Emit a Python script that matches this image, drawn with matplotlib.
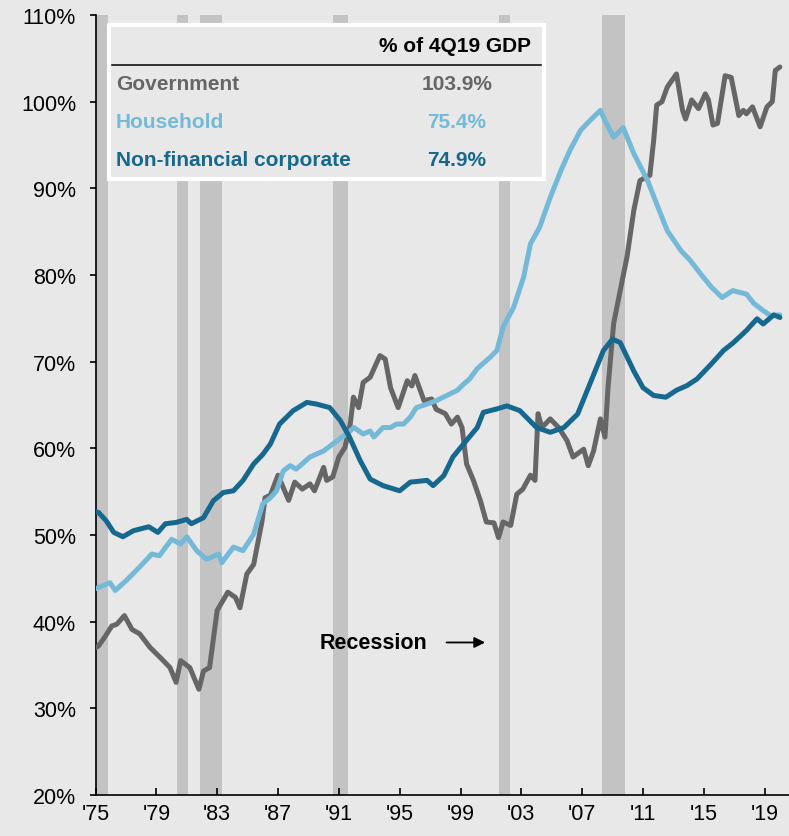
import matplotlib
matplotlib.use("Agg")
import matplotlib.pyplot as plt
from matplotlib.patches import Rectangle

plt.rcParams['font.family'] = ['Liberation Sans', 'DejaVu Sans']

# Debt as % of GDP
gov_x = [1975.0, 1975.2, 1975.6, 1976.07, 1976.4, 1976.9, 1977.4, 1977.9, 1978.6, 1979.35, 1979.9,
         1980.3, 1980.6, 1981.2, 1981.8, 1982.1, 1982.5, 1983.0, 1983.7, 1984.2, 1984.5, 1984.95,
         1985.4, 1985.95, 1986.15, 1986.5, 1987.0, 1987.7, 1988.1, 1988.6, 1989.1, 1989.4, 1989.8,
         1990.0, 1990.2, 1990.6, 1991.0, 1991.4, 1991.75, 1991.96, 1992.3, 1992.6, 1993.06, 1993.7,
         1994.05, 1994.4, 1994.9, 1995.5, 1995.8, 1996.0, 1996.6, 1997.1, 1997.4, 1998.0, 1998.4,
         1998.8, 1999.1, 1999.4, 1999.85, 2000.3, 2000.7, 2001.2, 2001.5, 2001.8, 2002.3, 2002.7,
         2003.1, 2003.6, 2003.9, 2004.1, 2004.35, 2004.9, 2005.45, 2006.0, 2006.4, 2007.1, 2007.4,
         2007.75, 2008.2, 2008.5, 2008.7, 2009.07, 2009.5, 2009.95, 2010.4, 2010.8, 2011.45, 2011.7,
         2011.9, 2012.25, 2012.6, 2013.2, 2013.6, 2013.8, 2014.2, 2014.65, 2015.1, 2015.3, 2015.6,
         2015.9, 2016.4, 2016.8, 2017.3, 2017.6, 2017.8, 2018.2, 2018.7, 2019.15, 2019.5, 2019.7, 2020.0]
gov_y = [37.0, 37.2, 38.2, 39.5, 39.7, 40.7, 39.1, 38.6, 37.0, 35.7, 34.7,
         33.0, 35.5, 34.7, 32.2, 34.3, 34.7, 41.3, 43.4, 42.8, 41.6, 45.5,
         46.6, 51.6, 54.3, 54.6, 56.9, 54.0, 56.1, 55.3, 55.9, 55.1, 56.9,
         57.8, 56.3, 56.7, 59.0, 60.1, 62.8, 65.9, 64.7, 67.6, 68.2, 70.7,
         70.3, 67.0, 64.7, 67.8, 67.2, 68.4, 65.5, 65.7, 64.5, 64.0, 62.8,
         63.6, 62.4, 58.2, 56.3, 54.0, 51.5, 51.4, 49.7, 51.5, 51.1, 54.7,
         55.3, 56.9, 56.3, 64.0, 62.4, 63.4, 62.4, 60.9, 59.0, 59.9, 58.0,
         59.7, 63.4, 61.3, 67.0, 74.4, 78.2, 82.1, 87.5, 90.9, 91.5, 95.5,
         99.6, 100.0, 101.7, 103.2, 99.0, 98.0, 100.2, 99.2, 100.9, 100.2, 97.3,
         97.5, 103.0, 102.8, 98.4, 99.0, 98.6, 99.4, 97.1, 99.4, 100.0, 103.6, 104.0]

hh_x = [1975.0, 1975.2, 1975.95, 1976.3, 1977.05, 1977.9, 1978.7, 1979.2, 1980.0, 1980.6, 1981.0,
        1981.65, 1982.3, 1983.1, 1983.3, 1984.07, 1984.7, 1985.4, 1986.0, 1986.5, 1986.9, 1987.35,
        1987.8, 1988.2, 1989.1, 1990.0, 1990.9, 1991.5, 1992.0, 1992.6, 1993.06, 1993.3, 1993.9,
        1994.4, 1994.8, 1995.25, 1995.7, 1996.1, 1996.8, 1997.4, 1998.1, 1998.8, 1999.2, 1999.6,
        2000.1, 2000.95, 2001.4, 2001.8, 2002.5, 2003.15, 2003.6, 2004.2, 2004.9, 2005.6, 2006.2,
        2006.9, 2007.5, 2008.2, 2008.5, 2009.07, 2009.7, 2010.4, 2011.3, 2011.9, 2012.6, 2013.5,
        2014.1, 2014.8, 2015.5, 2016.2, 2016.9, 2017.8, 2018.3, 2018.9, 2019.4, 2020.0]
hh_y = [43.8, 43.95, 44.5, 43.6, 44.8, 46.3, 47.8, 47.6, 49.5, 48.95, 49.8,
        48.2, 47.2, 47.8, 46.8, 48.6, 48.2, 50.1, 53.6, 54.3, 55.1, 57.4,
        58.0, 57.6, 59.0, 59.7, 60.9, 61.65, 62.4, 61.65, 62.0, 61.3, 62.4,
        62.4, 62.8, 62.8, 63.6, 64.7, 65.1, 65.5, 66.1, 66.7, 67.4, 68.0,
        69.2, 70.5, 71.3, 74.0, 76.3, 79.75, 83.6, 85.5, 88.95, 92.05, 94.4,
        96.7, 97.8, 99.0, 97.8, 95.9, 97.0, 94.0, 90.9, 88.2, 85.1, 82.8,
        81.7, 80.1, 78.6, 77.4, 78.2, 77.8, 76.7, 75.9, 75.3, 75.4]

corp_x = [1975.0, 1975.2, 1975.7, 1976.2, 1976.8, 1977.5, 1978.5, 1979.1, 1979.6, 1980.3, 1981.0,
          1981.3, 1982.1, 1982.75, 1983.4, 1984.07, 1984.7, 1985.4, 1986.0, 1986.5, 1987.1, 1988.0,
          1988.9, 1989.55, 1990.4, 1991.1, 1991.7, 1992.4, 1993.06, 1993.9, 1995.0, 1995.7, 1996.8,
          1997.2, 1997.9, 1998.5, 1999.2, 2000.1, 2000.5, 2001.4, 2002.05, 2002.9, 2004.0, 2004.9,
          2005.8, 2006.7, 2007.5, 2008.4, 2009.0, 2009.5, 2010.4, 2011.0, 2011.7, 2012.5, 2013.2,
          2013.9, 2014.55, 2015.5, 2016.3, 2016.95, 2017.8, 2018.5, 2018.9, 2019.6, 2020.0]
corp_y = [52.7, 52.6, 51.65, 50.3, 49.8, 50.5, 50.95, 50.3, 51.3, 51.45, 51.8,
          51.3, 52.0, 53.95, 54.9, 55.1, 56.3, 58.2, 59.3, 60.5, 62.8, 64.35,
          65.3, 65.1, 64.7, 63.2, 61.3, 58.6, 56.45, 55.7, 55.1, 56.1, 56.3,
          55.7, 56.85, 59.0, 60.5, 62.4, 64.15, 64.55, 64.9, 64.35, 62.4, 61.85,
          62.4, 63.95, 67.4, 71.3, 72.6, 72.2, 68.9, 67.0, 66.1, 65.9, 66.7,
          67.25, 68.0, 69.75, 71.3, 72.2, 73.6, 74.95, 74.35, 75.4, 75.1]

# recession periods (start, end)
recessions = [(1975.0, 1975.85), (1980.35, 1981.08), (1981.84, 1983.3),
              (1990.63, 1991.6), (2001.5, 2002.27), (2008.32, 2009.8)]

tick_years = [1975, 1979, 1983, 1987, 1991, 1995, 1999, 2003, 2007, 2011, 2015, 2019]
tick_labels = ["'75", "'79", "'83", "'87", "'91", "'95", "'99", "'03", "'07", "'11", "'15", "'19"]

series_names = ['Government', 'Household', 'Non-financial corporate']
latest_labels = ['103.9%', '75.4%', '74.9%']
colors = ['#666666', '#74b9d7', '#17688f']

bg = '#e8e8e8'
W, H = 789, 837
fig = plt.figure(figsize=(W / 100, H / 100), dpi=100, facecolor=bg)
ax = fig.add_axes([95.5 / W, 41 / H, (W - 95.5) / W, 780 / H], facecolor=bg)

for s, e in recessions:
    ax.axvspan(s, e, color='#c3c3c3', lw=0, zorder=1)

for xs, ys, c in zip([gov_x, hh_x, corp_x], [gov_y, hh_y, corp_y], colors):
    ax.plot(xs, ys, color=c, lw=3.6, solid_joinstyle='round', solid_capstyle='round', zorder=3)

ax.set_xlim(1975, 2020.6)
ax.set_ylim(20, 110)
ax.set_yticks(range(20, 111, 10))
ax.set_yticklabels([f'{v}%' for v in range(20, 111, 10)], fontsize=15.5)
ax.set_xticks(tick_years)
ax.set_xticklabels(tick_labels, fontsize=15.5)
ax.tick_params(axis='y', direction='out', length=4, width=1.2, pad=10)
ax.tick_params(axis='x', direction='in', length=5, width=1.2, pad=6)
for side in ['top', 'right']:
    ax.spines[side].set_visible(False)
ax.spines['left'].set_linewidth(1.2)
ax.spines['bottom'].set_linewidth(1.2)


def fx(px):
    return px / W


def fy(py):
    return 1 - py / H


# table box
box = Rectangle((fx(109), fy(180)), fx(544) - fx(109), fy(26) - fy(180), transform=fig.transFigure,
                facecolor=bg, edgecolor='white', lw=3, zorder=5)
fig.patches.append(box)
fig.add_artist(plt.Line2D([fx(112), fx(541)], [fy(66), fy(66)], color='black', lw=1.1,
                          transform=fig.transFigure, zorder=6))
fig.text(fx(531), fy(47), '% of 4Q19 GDP', ha='right', va='center', fontsize=15,
         fontweight='bold', color='black', zorder=6)
for i, (name, val, c) in enumerate(zip(series_names, latest_labels, colors)):
    y = fy(85 + 38 * i)
    fig.text(fx(116), y, name, ha='left', va='center', fontsize=15, fontweight='bold', color=c, zorder=6)
    fig.text(fx(457), y, val, ha='center', va='center', fontsize=15, fontweight='bold', color=c, zorder=6)

# recession note
ax.annotate('', xy=(2000.8, 37.6), xytext=(1997.9, 37.6),
            arrowprops=dict(arrowstyle='-|>', color='black', lw=1.3, mutation_scale=16))
ax.text(1989.75, 37.6, 'Recession', ha='left', va='center', fontsize=15.5, fontweight='bold')

fig.savefig('out.png', dpi=100, facecolor=bg)
